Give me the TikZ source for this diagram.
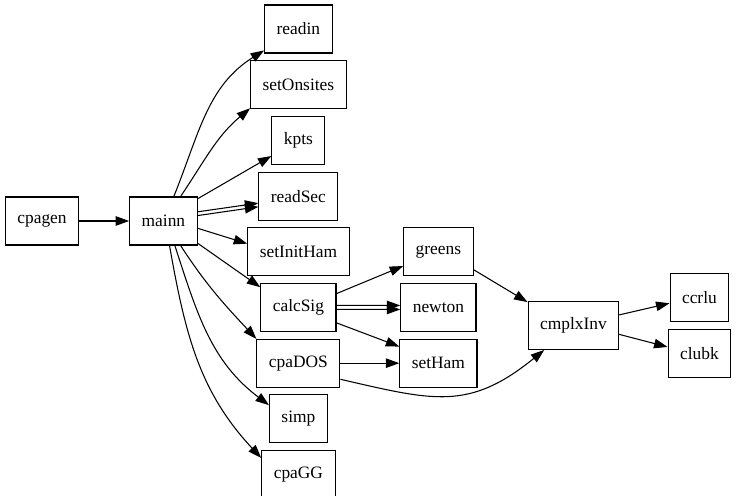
\documentclass[tikz,border=0pt]{standalone}
\usepackage{fontspec}
\setmainfont{Liberation Serif}
\usetikzlibrary{arrows.meta, positioning, calc}
\tikzstyle{func} = [rectangle, minimum height=0.96cm, inner xsep=0.24cm, inner ysep=0pt, text centered, draw=black, line width=0.6pt, font=\fontsize{9.9}{11}\selectfont]
\tikzstyle{arrow} = [line width=0.6pt, -{Triangle[length=0.27cm, width=0.19cm]}]

\begin{document}
\begin{tikzpicture}[x=0.02cm, y=-0.02cm, node distance=0.133cm]
        \useasboundingbox (0,0) rectangle (736,496);
        \node (cpagen) [func] at (42,221) {cpagen};
        \node (mainn) [func, right=1cm of cpagen] {mainn};

        \node (readin) [func] at ($(mainn)+(135,-192)$) {readin};
        \node (setOnsites) [func, below=of readin] {setOnsites};
        \node (kpts) [func, below=of setOnsites] {kpts};
        \node (readSec) [func, below=of kpts] {readSec};
        \node (setInitHam) [func, below=of readSec] {setInitHam};
        \node (calcSig) [func, below=of setInitHam] {calcSig};
        \node (cpaDOS) [func, below=of calcSig] {cpaDOS};
        \node (simp) [func, below=of cpaDOS] {simp};
        \node (cpaGG) [func, below=of simp] {cpaGG};

        \node (greens) [func] at ($(setInitHam)+(140,0)$) {greens};
        \node (newton) [func, below=of greens] {newton};
        \node (setHam) [func, below=of newton] {setHam};

        \node (cmplxInv) [func] at ($(newton)+(135,18)$) {cmplxInv};
        \node (ccrlu) [func] at ($(cmplxInv)+(126,-28)$) {ccrlu};
        \node (clubk) [func, below=of ccrlu] {clubk};

        \draw [arrow] (cpagen) -- (mainn);
        \draw [arrow] (mainn.67) to[out=68, in=212] (readin.212);
        \draw [arrow] (mainn.55) to[out=56, in=220] (setOnsites.206);
        \draw [arrow] (mainn.33) -- (kpts.210);
        \draw [arrow] (mainn.15) -- (readSec.190);
        \draw [arrow] (mainn.9) -- (readSec.195);
        \draw [arrow] (mainn.-12) -- (setInitHam.171);
        \draw [arrow] (mainn.-33) -- (calcSig.152);
        \draw [arrow] (mainn.-55) to[out=-57, in=133] (cpaDOS.150);
        \draw [arrow] (mainn.-65) to[out=-72, in=143] (simp.155);
        \draw [arrow] (mainn.-76) to[out=-80, in=133] (cpaGG.156);

        \draw [arrow] (calcSig.20) -- (greens.202);
        \draw [arrow] (calcSig.3) -- (newton.177);
        \draw [arrow] (calcSig.-3) -- (newton.183);
        \draw [arrow] (calcSig.-22) -- (setHam.157);
        \draw [arrow] (cpaDOS) -- (setHam);
        \draw [arrow] (cpaDOS.-21) to[out=-13, in=219, looseness=1.2] (cmplxInv.220);
        \draw [arrow] (greens.-27) -- (cmplxInv.153);
        \draw [arrow] (cmplxInv.13) -- (ccrlu.191);
        \draw [arrow] (cmplxInv.-11) -- (clubk.169);
    \end{tikzpicture}
\end{document}
